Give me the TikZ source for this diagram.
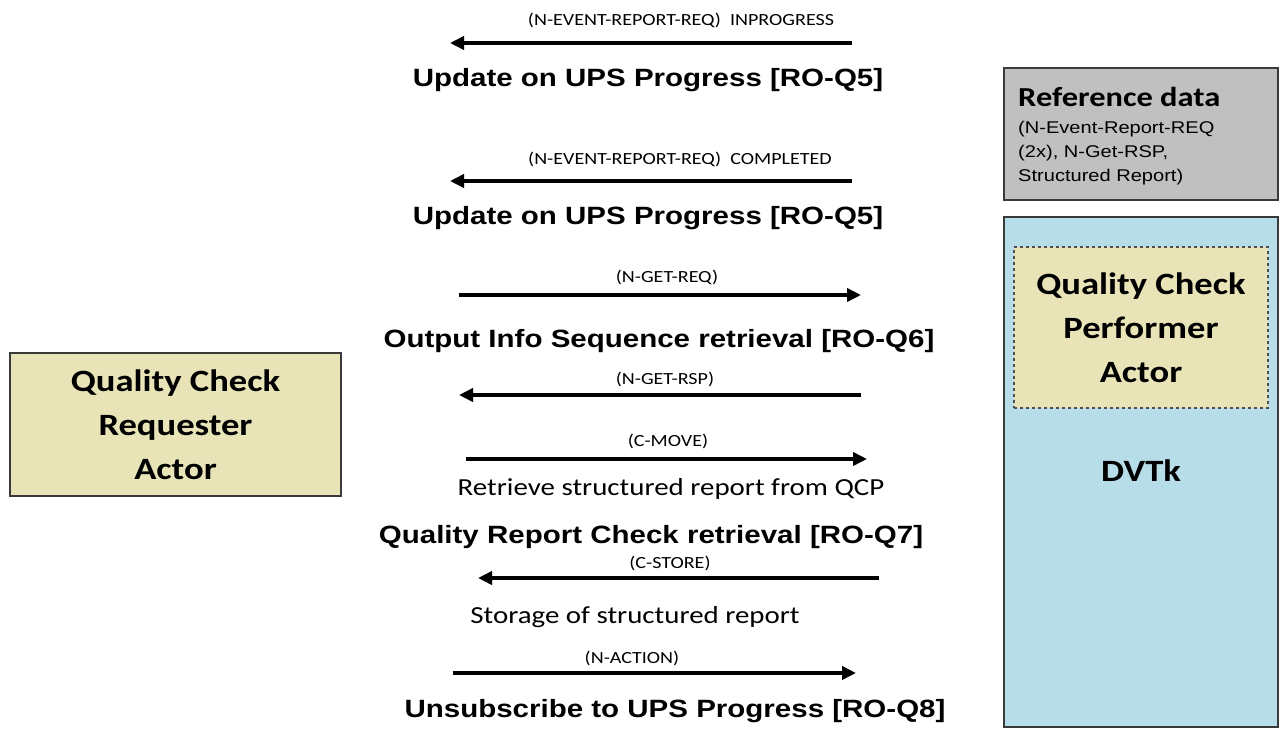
\documentclass[tikz,border=0pt]{standalone}
\usepackage{fontspec}
\setmainfont{Liberation Sans}[FakeStretch=1.18]
\newfontfamily\calfont{Carlito}[FakeStretch=1.18]
\usetikzlibrary{arrows.meta}

\definecolor{actorfill}{HTML}{E8E4B8}
\definecolor{toolfill}{HTML}{B7DDE8}
\definecolor{reffill}{HTML}{C0C0C0}
\definecolor{boxline}{HTML}{3A3A3A}

\tikzset{
  msg/.style={line width=3.8pt, -{Triangle[length=14pt,width=13pt]}},
  msgshadow/.style={line width=3.8pt, draw=black!12, -{Triangle[length=14pt,width=13pt]}},
  msglabel/.style={font=\calfont\fontsize{17}{19}\selectfont, inner sep=0pt},
  heading/.style={font=\bfseries\fontsize{25}{29}\selectfont, inner sep=0pt},
  note/.style={font=\calfont\fontsize{24.5}{28}\selectfont, inner sep=0pt},
  actorbox/.style={draw=boxline, line width=1.4pt, fill=actorfill, align=center,
    font=\calfont\bfseries\fontsize{31}{44}\selectfont},
}

\begin{document}
\begin{tikzpicture}[x=1pt,y=-1pt]
\useasboundingbox (0,0) rectangle (1287,738);

% actors and tool boxes
\node[actorbox, minimum width=331pt, minimum height=143pt] (req) at (175.5,424.5)
  {Quality Check\\Requester\\Actor};

\node[draw=boxline, line width=1.4pt, fill=reffill, minimum width=274pt, minimum height=132pt] (ref) at (1141,134) {};
\node[anchor=west, inner sep=0pt, font=\calfont\bfseries\fontsize{27.5}{30}\selectfont] (reftitle) at (1018,97) {Reference data};
\node[anchor=north west, inner sep=0pt, align=left, font=\fontsize{17}{24}\selectfont] (reftext) at (1018,121)
  {(N-Event-Report-REQ\\(2x), N-Get-RSP,\\Structured Report)};

\node[draw=boxline, line width=1.4pt, fill=toolfill, minimum width=274pt, minimum height=510pt] (dvtk) at (1141,472) {};
\node[actorbox, draw=boxline!90, dashed, line width=1.2pt, minimum width=254pt, minimum height=161pt] (perf) at (1141,327.5)
  {Quality Check\\Performer\\Actor};
\node[inner sep=0pt, font=\calfont\bfseries\fontsize{31}{36}\selectfont] (dvtklabel) at (1141,471) {DVTk};

% message end points
\coordinate (m1r) at (852,43);  \coordinate (m1l) at (450,43);
\coordinate (m2r) at (852,181); \coordinate (m2l) at (450,181);
\coordinate (m3l) at (459,295); \coordinate (m3r) at (861,295);
\coordinate (m4r) at (861,395); \coordinate (m4l) at (459,395);
\coordinate (m5l) at (466,459); \coordinate (m5r) at (867,459);
\coordinate (m6r) at (879,578); \coordinate (m6l) at (478,578);
\coordinate (m7l) at (453,673); \coordinate (m7r) at (856,673);

% soft shadows under the messages
\begin{scope}[shift={(2,3)}]
  \draw[msgshadow] (m1r) -- (m1l);
  \draw[msgshadow] (m2r) -- (m2l);
  \draw[msgshadow] (m3l) -- (m3r);
  \draw[msgshadow] (m4r) -- (m4l);
  \draw[msgshadow] (m5l) -- (m5r);
  \draw[msgshadow] (m6r) -- (m6l);
  \draw[msgshadow] (m7l) -- (m7r);
\end{scope}

% messages
\draw[msg] (m1r) -- (m1l);
\draw[msg] (m2r) -- (m2l);
\draw[msg] (m3l) -- (m3r);
\draw[msg] (m4r) -- (m4l);
\draw[msg] (m5l) -- (m5r);
\draw[msg] (m6r) -- (m6l);
\draw[msg] (m7l) -- (m7r);

% message labels
\node[msglabel] (l1) at (681,20)  {(N-EVENT-REPORT-REQ)\ \ INPROGRESS};
\node[msglabel] (l2) at (680,159) {(N-EVENT-REPORT-REQ)\ \ COMPLETED};
\node[msglabel] (l3) at (667,277) {(N-GET-REQ)};
\node[msglabel] (l4) at (665,379) {(N-GET-RSP)};
\node[msglabel] (l5) at (668,441) {(C-MOVE)};
\node[msglabel] (l6) at (670,563) {(C-STORE)};
\node[msglabel] (l7) at (632,658) {(N-ACTION)};

% transaction headings
\node[heading] (h1) at (648,80)  {Update on UPS Progress [RO-Q5]};
\node[heading] (h2) at (648,218) {Update on UPS Progress [RO-Q5]};
\node[heading] (h3) at (659,341) {Output Info Sequence retrieval [RO-Q6]};
\node[heading] (h4) at (651,537) {Quality Report Check retrieval [RO-Q7]};
\node[heading] (h5) at (675,711) {Unsubscribe to UPS Progress [RO-Q8]};

% notes
\node[note] (n1) at (671,489) {Retrieve structured report from QCP};
\node[note] (n2) at (635,617) {Storage of structured report};
\end{tikzpicture}
\end{document}
